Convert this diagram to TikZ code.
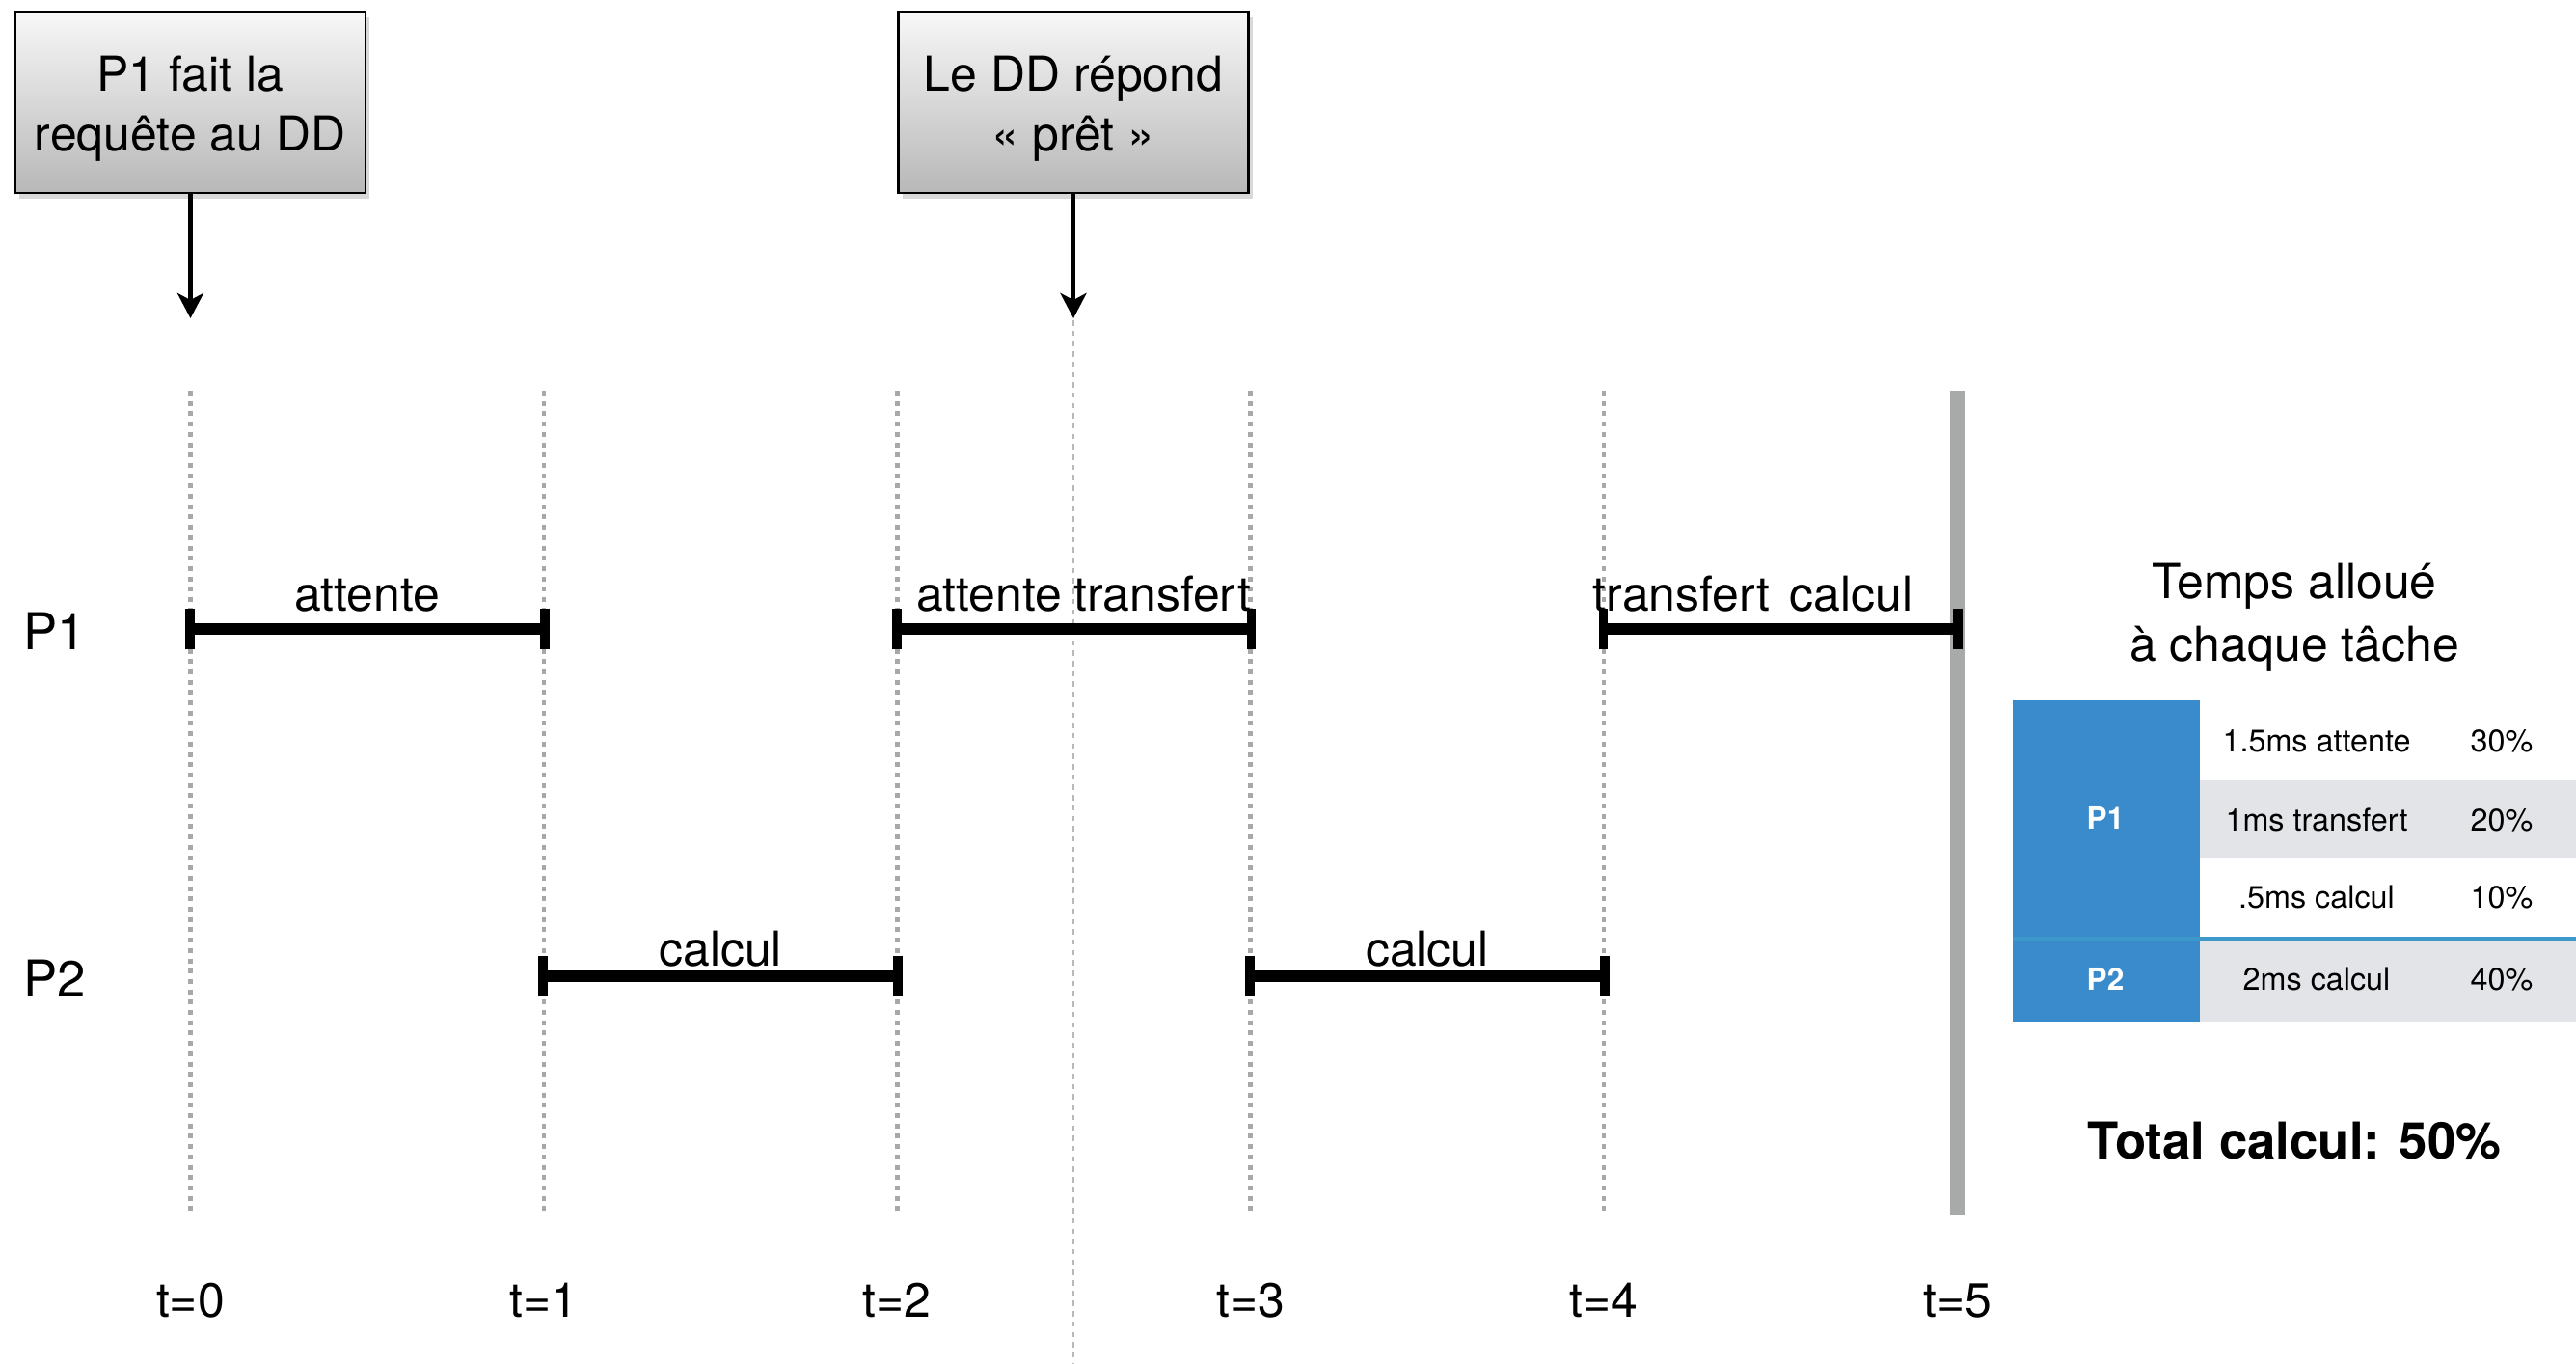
\documentclass[tikz,border=0pt]{standalone}
\usepackage{fontspec}
\setmainfont{TeX Gyre Heros}
\usetikzlibrary{arrows.meta,shadows,positioning}

\definecolor{dotgray}{RGB}{168,168,168}
\definecolor{dashgray}{RGB}{185,185,185}
\definecolor{bargray}{RGB}{167,170,169}
\definecolor{cellblue}{RGB}{58,139,204}
\definecolor{sepblue}{RGB}{62,152,202}
\definecolor{rowgray}{RGB}{227,228,232}

\newcommand{\boxlift}{\rule{0pt}{14.4pt}}

\begin{document}
\begin{tikzpicture}
[every node/.style={font=\fontsize{14.2}{17.6}\selectfont},
 box/.style={draw=black,line width=0.8pt,top color=black!3,bottom color=black!28,minimum width=3.63cm,minimum height=1.88cm,align=center,drop shadow={shadow xshift=0.04cm,shadow yshift=-0.06cm,opacity=0.3}},
 pointer/.style={line width=1.4pt,-{Stealth[length=0.26cm,width=0.27cm,inset=0.07cm]}},
 timeline/.style={dotgray,line width=1.3pt,dash pattern=on 0.05cm off 0.057cm},
 ready/.style={dashgray,line width=0.6pt,dash pattern=on 0.055cm off 0.052cm},
 bar/.style={line width=3.4pt,shorten <=-1.6pt,shorten >=-1.6pt,{Bar[width=12.2pt,line width=2.8pt]}-{Bar[width=12.2pt,line width=2.8pt]}},
 task/.style={anchor=base,yshift=0.19cm},
 cell/.style={inner sep=0pt,font=\fontsize{9.2}{11}\selectfont},
 head/.style={inner sep=0pt,text=white,font=\bfseries\fontsize{9}{11}\selectfont}]

\useasboundingbox (0,0) rectangle (26.71,14.13);

% lignes de temps
\foreach \i in {0,...,5} {
  \coordinate (top\i) at (1.975+3.664*\i,10.08);
  \coordinate (bot\i) at (1.975+3.664*\i,1.53);
  \coordinate (a\i) at (1.975+3.664*\i,7.61);
  \coordinate (b\i) at (1.975+3.664*\i,4.01);
  \node[anchor=base] (t\i) at (1.975+3.664*\i,0.48) {t=\i};
}
\foreach \i in {0,...,4}
  \draw[timeline] (top\i) -- (bot\i);
\draw[bargray,line width=0.15cm] (top5) -- (bot5);

% evenements
\node[box] (req) at (1.975,13.07) {\boxlift P1 fait la\\requête au DD};
\node[box] (rep) at (11.13,13.07) {\boxlift Le DD répond\\« prêt »};
\coordinate (reqend) at (1.975,10.83);
\coordinate (repend) at (11.13,10.83);
\draw[pointer] (req) -- (reqend);
\draw[pointer] (rep) -- (repend);

\coordinate (readytop) at (11.13,10.81);
\coordinate (readybot) at (11.13,0);
\draw[ready] (readytop) -- (readybot);

% processus
\node[font=\fontsize{15}{18}\selectfont] (P1) at (0.57,7.59) {P1};
\node[font=\fontsize{15}{18}\selectfont] (P2) at (0.57,3.99) {P2};

\draw[bar] (a0) -- (a1) node[midway,task] {attente};
\draw[bar] (a2) -- (a3) node[pos=.26,task] {attente} node[pos=.75,task] {transfert};
\draw[bar] (a4) -- (a5) node[pos=.22,task] {transfert} node[pos=.70,task] {calcul};
\draw[bar] (b1) -- (b2) node[midway,anchor=base,yshift=0.11cm] {calcul};
\draw[bar] (b3) -- (b4) node[midway,anchor=base,yshift=0.11cm] {calcul};

% tableau
\node[align=center,font=\fontsize{14.2}{18.5}\selectfont] (title) at (23.79,7.73) {Temps alloué\\à chaque tâche};

\fill[cellblue] (20.87,3.54) rectangle (22.81,6.87);
\fill[rowgray] (22.81,5.24) rectangle (26.71,6.04);
\fill[rowgray] (22.81,3.54) rectangle (26.71,4.37);
\draw[sepblue,line width=0.04cm] (20.87,4.40) -- (26.71,4.40);

\node[head] (P1head) at (21.83,5.65) {P1};
\node[head] (P2head) at (21.83,3.98) {P2};

\node[cell] (att) at (24.02,6.45) {1.5ms attente};
\node[cell] (trf) at (24.02,5.63) {1ms transfert};
\node[cell] (cal1) at (24.02,4.83) {.5ms calcul};
\node[cell] (cal2) at (24.02,3.98) {2ms calcul};
\node[cell,anchor=east] (pct1) at (26.27,6.45) {30\%};
\node[cell,anchor=east] (pct2) at (26.27,5.63) {20\%};
\node[cell,anchor=east] (pct3) at (26.27,4.83) {10\%};
\node[cell,anchor=east] (pct4) at (26.27,3.98) {40\%};

\node[anchor=base,font=\bfseries\fontsize{15}{18}\selectfont] (total) at (23.79,2.12) {Total calcul: 50\%};
\end{tikzpicture}
\end{document}
